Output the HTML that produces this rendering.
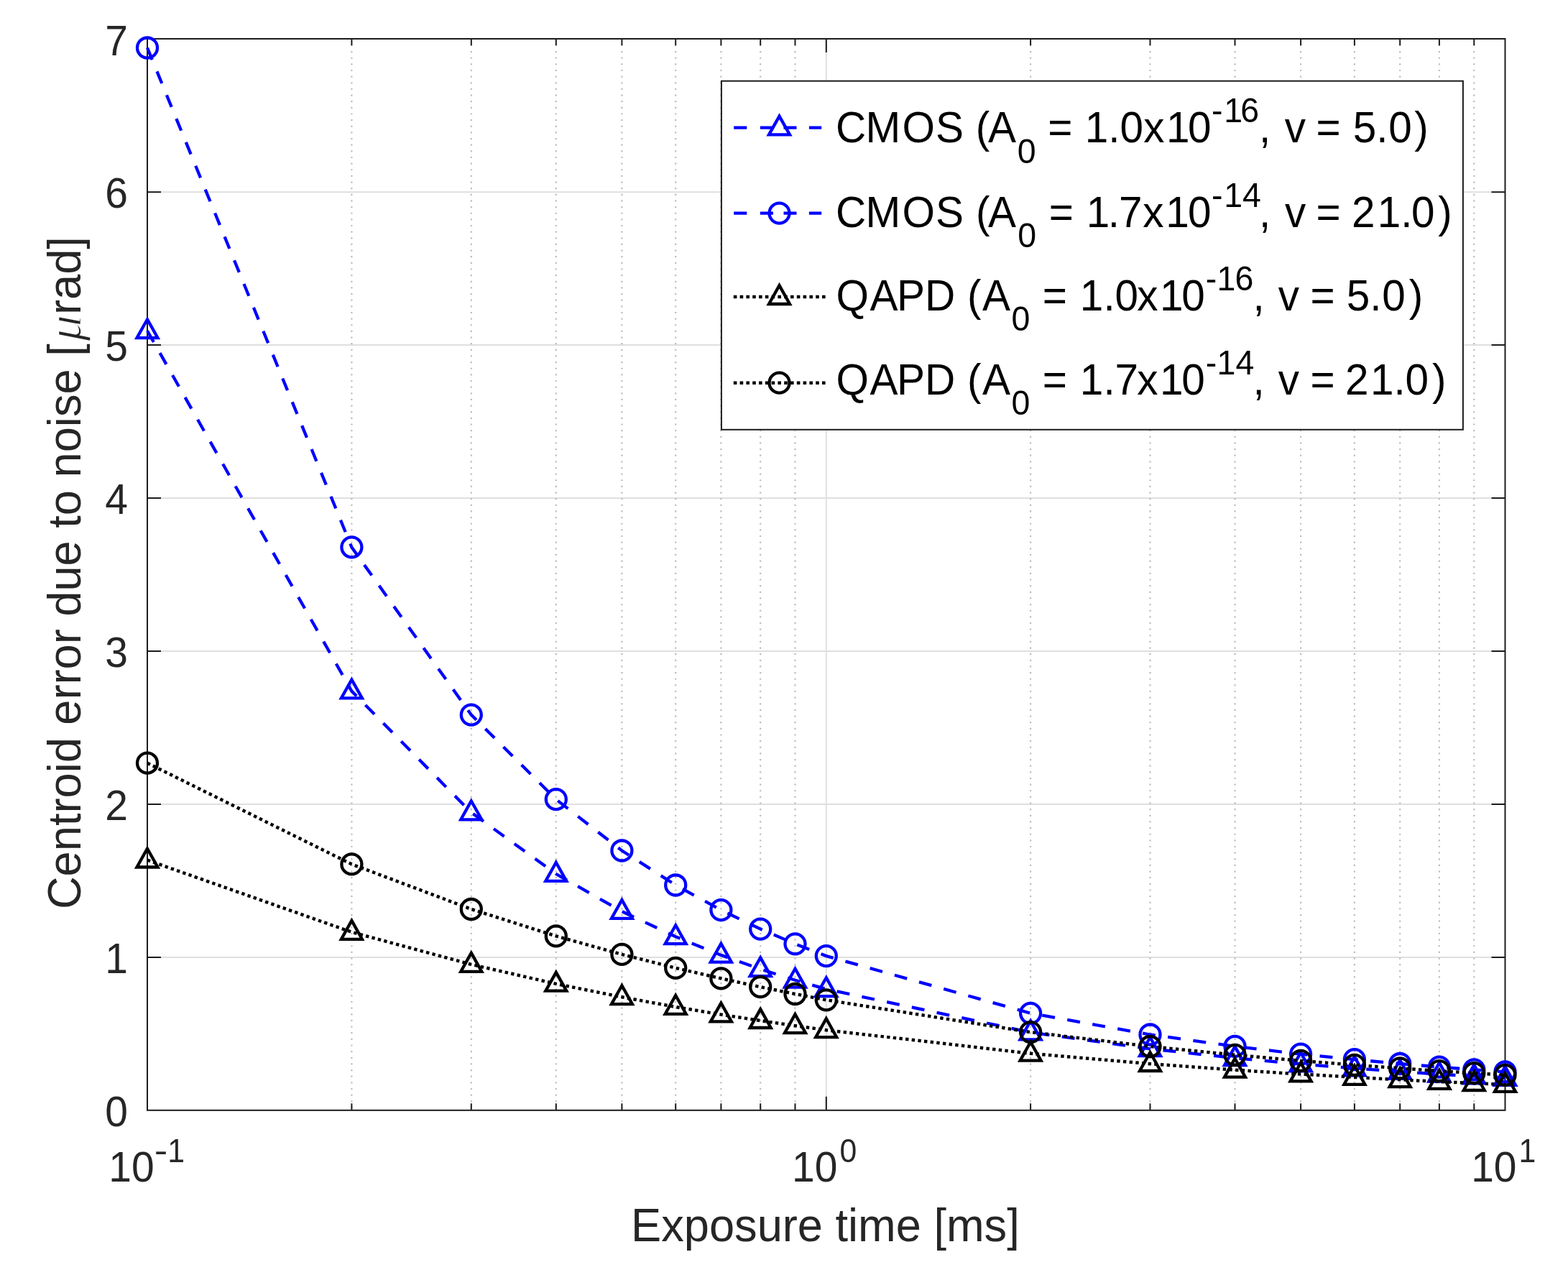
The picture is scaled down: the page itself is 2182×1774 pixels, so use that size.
<!DOCTYPE html>
<html><head><meta charset="utf-8"><title>Centroid error vs exposure time</title><style>html,body{margin:0;padding:0;background:#fff;}svg{display:block;}</style></head>
<body>
<svg width="2182" height="1774" viewBox="0 0 2182 1774">
<rect width="2182" height="1774" fill="#fff"/>
<path d="M205.0 1331.9H2094.5 M205.0 1118.9H2094.5 M205.0 906.0H2094.5 M205.0 693.0H2094.5 M205.0 480.1H2094.5 M205.0 267.2H2094.5 M1149.8 54.0V1544.8" stroke="#dfdfdf" stroke-width="2" fill="none"/>
<path d="M489.4 71.0V1544.8 M655.8 71.0V1544.8 M773.8 71.0V1544.8 M865.4 71.0V1544.8 M940.2 71.0V1544.8 M1003.4 71.0V1544.8 M1058.2 71.0V1544.8 M1106.5 71.0V1544.8 M1434.1 71.0V1544.8 M1600.5 71.0V1544.8 M1718.5 71.0V1544.8 M1810.1 71.0V1544.8 M1884.9 71.0V1544.8 M1948.2 71.0V1544.8 M2002.9 71.0V1544.8 M2051.3 71.0V1544.8" stroke="#bdbdbd" stroke-width="2.2" stroke-dasharray="2.2 6.44" fill="none"/>
<rect x="205.0" y="54.0" width="1889.5" height="1490.8" fill="none" stroke="#1c1c1c" stroke-width="2"/>
<path d="M205.0 1331.9h19 M2094.5 1331.9h-19 M205.0 1118.9h19 M2094.5 1118.9h-19 M205.0 906.0h19 M2094.5 906.0h-19 M205.0 693.0h19 M2094.5 693.0h-19 M205.0 480.1h19 M2094.5 480.1h-19 M205.0 267.2h19 M2094.5 267.2h-19 M1149.8 1544.8v-19 M1149.8 54.0v19 M489.4 1544.8v-9.5 M489.4 54.0v9.5 M655.8 1544.8v-9.5 M655.8 54.0v9.5 M773.8 1544.8v-9.5 M773.8 54.0v9.5 M865.4 1544.8v-9.5 M865.4 54.0v9.5 M940.2 1544.8v-9.5 M940.2 54.0v9.5 M1003.4 1544.8v-9.5 M1003.4 54.0v9.5 M1058.2 1544.8v-9.5 M1058.2 54.0v9.5 M1106.5 1544.8v-9.5 M1106.5 54.0v9.5 M1434.1 1544.8v-9.5 M1434.1 54.0v9.5 M1600.5 1544.8v-9.5 M1600.5 54.0v9.5 M1718.5 1544.8v-9.5 M1718.5 54.0v9.5 M1810.1 1544.8v-9.5 M1810.1 54.0v9.5 M1884.9 1544.8v-9.5 M1884.9 54.0v9.5 M1948.2 1544.8v-9.5 M1948.2 54.0v9.5 M2002.9 1544.8v-9.5 M2002.9 54.0v9.5 M2051.3 1544.8v-9.5 M2051.3 54.0v9.5" stroke="#1c1c1c" stroke-width="2" fill="none"/>
<text transform="translate(178.00,1567.10) scale(1,1.025)" font-family="Liberation Sans, Arial, Helvetica, sans-serif" font-size="57" fill="#262626" text-anchor="end">0</text>
<text transform="translate(178.00,1354.16) scale(1,1.025)" font-family="Liberation Sans, Arial, Helvetica, sans-serif" font-size="57" fill="#262626" text-anchor="end">1</text>
<text transform="translate(178.00,1141.22) scale(1,1.025)" font-family="Liberation Sans, Arial, Helvetica, sans-serif" font-size="57" fill="#262626" text-anchor="end">2</text>
<text transform="translate(178.00,928.28) scale(1,1.025)" font-family="Liberation Sans, Arial, Helvetica, sans-serif" font-size="57" fill="#262626" text-anchor="end">3</text>
<text transform="translate(178.00,715.34) scale(1,1.025)" font-family="Liberation Sans, Arial, Helvetica, sans-serif" font-size="57" fill="#262626" text-anchor="end">4</text>
<text transform="translate(178.00,502.40) scale(1,1.025)" font-family="Liberation Sans, Arial, Helvetica, sans-serif" font-size="57" fill="#262626" text-anchor="end">5</text>
<text transform="translate(178.00,289.46) scale(1,1.025)" font-family="Liberation Sans, Arial, Helvetica, sans-serif" font-size="57" fill="#262626" text-anchor="end">6</text>
<text transform="translate(178.00,76.52) scale(1,1.025)" font-family="Liberation Sans, Arial, Helvetica, sans-serif" font-size="57" fill="#262626" text-anchor="end">7</text>
<text transform="translate(151.34,1643.80) scale(1,1.025)" font-family="Liberation Sans, Arial, Helvetica, sans-serif" font-size="57" fill="#262626">10</text>
<text transform="translate(214.83,1616.50) scale(1.209,1.025)" font-family="Liberation Sans, Arial, Helvetica, sans-serif" font-size="46" fill="#262626">-</text>
<text transform="translate(233.30,1616.50) scale(0.930,1.025)" font-family="Liberation Sans, Arial, Helvetica, sans-serif" font-size="46" fill="#262626">1</text>
<text transform="translate(1102.04,1643.80) scale(1,1.025)" font-family="Liberation Sans, Arial, Helvetica, sans-serif" font-size="57" fill="#262626">10</text>
<text transform="translate(1168.50,1616.50) scale(0.930,1.025)" font-family="Liberation Sans, Arial, Helvetica, sans-serif" font-size="46" fill="#262626">0</text>
<text transform="translate(2047.14,1643.80) scale(1,1.025)" font-family="Liberation Sans, Arial, Helvetica, sans-serif" font-size="57" fill="#262626">10</text>
<text transform="translate(2113.50,1616.50) scale(0.930,1.025)" font-family="Liberation Sans, Arial, Helvetica, sans-serif" font-size="46" fill="#262626">1</text>
<text transform="translate(878.02,1726.90) scale(1,1.03)" font-family="Liberation Sans, Arial, Helvetica, sans-serif" font-size="63.2" fill="#262626">Exposure time [ms]</text>
<text transform="translate(111.8,1265.01) rotate(-90) scale(1,1.03)" font-family="Liberation Sans, Arial, Helvetica, sans-serif" font-size="63.2" fill="#262626">Centroid error due to noise [</text>
<text transform="translate(111.8,474.70) rotate(-90) scale(1.16,1.03)" font-family="Liberation Serif, serif" font-style="italic" font-size="63.2" fill="#262626" stroke="#fff" stroke-width="1.4">μ</text>
<text transform="translate(111.8,438.00) rotate(-90) scale(1,1.03)" font-family="Liberation Sans, Arial, Helvetica, sans-serif" font-size="63.2" fill="#262626">rad]</text>
<g fill="none" stroke-width="4.3" stroke-miterlimit="10">
<path d="M205.0 460.3 L489.4 961.6 L655.8 1130.5 L773.8 1216.0 L865.4 1268.1 L940.2 1303.3 L1003.4 1328.9 L1058.2 1348.4 L1106.5 1363.8 L1149.8 1376.3 L1434.1 1436.4 L1600.5 1459.3 L1718.5 1472.1 L1810.1 1480.5 L1884.9 1486.4 L1948.2 1491.0 L2002.9 1494.6 L2051.3 1497.6 L2094.5 1500.1" stroke="#0000ff" stroke-dasharray="18 17.5" stroke-width="4.3"/>
<path d="M205.0 444.3L219.5 470.1L190.5 470.1Z M489.4 945.6L503.9 971.4L474.9 971.4Z M655.8 1114.5L670.3 1140.3L641.3 1140.3Z M773.8 1200.0L788.3 1225.9L759.3 1225.9Z M865.4 1252.1L879.9 1277.9L850.9 1277.9Z M940.2 1287.3L954.7 1313.2L925.7 1313.2Z M1003.4 1312.9L1017.9 1338.7L988.9 1338.7Z M1058.2 1332.4L1072.7 1358.2L1043.7 1358.2Z M1106.5 1347.8L1121.0 1373.6L1092.0 1373.6Z M1149.8 1360.3L1164.2 1386.1L1135.2 1386.1Z M1434.1 1420.4L1448.6 1446.3L1419.6 1446.3Z M1600.5 1443.3L1615.0 1469.2L1586.0 1469.2Z M1718.5 1456.1L1733.0 1482.0L1704.0 1482.0Z M1810.1 1464.5L1824.6 1490.3L1795.6 1490.3Z M1884.9 1470.4L1899.4 1496.3L1870.4 1496.3Z M1948.2 1475.0L1962.7 1500.9L1933.7 1500.9Z M2002.9 1478.6L2017.4 1504.5L1988.4 1504.5Z M2051.3 1481.6L2065.8 1507.4L2036.8 1507.4Z M2094.5 1484.1L2109.0 1509.9L2080.0 1509.9Z" stroke="#0000ff"/>
<path d="M205.0 66.5 L489.4 761.4 L655.8 994.6 L773.8 1112.2 L865.4 1183.5 L940.2 1231.5 L1003.4 1266.2 L1058.2 1292.6 L1106.5 1313.3 L1149.8 1330.1 L1434.1 1409.8 L1600.5 1439.5 L1718.5 1455.9 L1810.1 1466.6 L1884.9 1474.2 L1948.2 1480.0 L2002.9 1484.6 L2051.3 1488.3 L2094.5 1491.4" stroke="#0000ff" stroke-dasharray="18 17.5" stroke-width="4.3"/>
<path d="M191.0 66.5a14 14 0 1 0 28 0a14 14 0 1 0 -28 0Z M475.4 761.4a14 14 0 1 0 28 0a14 14 0 1 0 -28 0Z M641.8 994.6a14 14 0 1 0 28 0a14 14 0 1 0 -28 0Z M759.8 1112.2a14 14 0 1 0 28 0a14 14 0 1 0 -28 0Z M851.4 1183.5a14 14 0 1 0 28 0a14 14 0 1 0 -28 0Z M926.2 1231.5a14 14 0 1 0 28 0a14 14 0 1 0 -28 0Z M989.4 1266.2a14 14 0 1 0 28 0a14 14 0 1 0 -28 0Z M1044.2 1292.6a14 14 0 1 0 28 0a14 14 0 1 0 -28 0Z M1092.5 1313.3a14 14 0 1 0 28 0a14 14 0 1 0 -28 0Z M1135.8 1330.1a14 14 0 1 0 28 0a14 14 0 1 0 -28 0Z M1420.1 1409.8a14 14 0 1 0 28 0a14 14 0 1 0 -28 0Z M1586.5 1439.5a14 14 0 1 0 28 0a14 14 0 1 0 -28 0Z M1704.5 1455.9a14 14 0 1 0 28 0a14 14 0 1 0 -28 0Z M1796.1 1466.6a14 14 0 1 0 28 0a14 14 0 1 0 -28 0Z M1870.9 1474.2a14 14 0 1 0 28 0a14 14 0 1 0 -28 0Z M1934.2 1480.0a14 14 0 1 0 28 0a14 14 0 1 0 -28 0Z M1988.9 1484.6a14 14 0 1 0 28 0a14 14 0 1 0 -28 0Z M2037.3 1488.3a14 14 0 1 0 28 0a14 14 0 1 0 -28 0Z M2080.5 1491.4a14 14 0 1 0 28 0a14 14 0 1 0 -28 0Z" stroke="#0000ff"/>
<path d="M205.0 1196.7 L489.4 1296.9 L655.8 1341.9 L773.8 1368.9 L865.4 1387.3 L940.2 1401.0 L1003.4 1411.6 L1058.2 1420.1 L1106.5 1427.2 L1149.8 1433.2 L1434.1 1465.8 L1600.5 1480.2 L1718.5 1488.7 L1810.1 1494.6 L1884.9 1498.9 L1948.2 1502.3 L2002.9 1505.0 L2051.3 1507.2 L2094.5 1509.1" stroke="#000000" stroke-dasharray="4.4 4.3" stroke-width="4.5"/>
<path d="M205.0 1180.7L219.5 1206.5L190.5 1206.5Z M489.4 1280.9L503.9 1306.8L474.9 1306.8Z M655.8 1325.9L670.3 1351.8L641.3 1351.8Z M773.8 1352.9L788.3 1378.7L759.3 1378.7Z M865.4 1371.3L879.9 1397.2L850.9 1397.2Z M940.2 1385.0L954.7 1410.8L925.7 1410.8Z M1003.4 1395.6L1017.9 1421.4L988.9 1421.4Z M1058.2 1404.1L1072.7 1430.0L1043.7 1430.0Z M1106.5 1411.2L1121.0 1437.1L1092.0 1437.1Z M1149.8 1417.2L1164.2 1443.1L1135.2 1443.1Z M1434.1 1449.8L1448.6 1475.6L1419.6 1475.6Z M1600.5 1464.2L1615.0 1490.0L1586.0 1490.0Z M1718.5 1472.7L1733.0 1498.6L1704.0 1498.6Z M1810.1 1478.6L1824.6 1504.4L1795.6 1504.4Z M1884.9 1482.9L1899.4 1508.8L1870.4 1508.8Z M1948.2 1486.3L1962.7 1512.1L1933.7 1512.1Z M2002.9 1489.0L2017.4 1514.8L1988.4 1514.8Z M2051.3 1491.2L2065.8 1517.0L2036.8 1517.0Z M2094.5 1493.1L2109.0 1518.9L2080.0 1518.9Z" stroke="#000000"/>
<path d="M205.0 1061.7 L489.4 1202.4 L655.8 1265.0 L773.8 1302.4 L865.4 1327.9 L940.2 1346.8 L1003.4 1361.4 L1058.2 1373.2 L1106.5 1383.0 L1149.8 1391.3 L1434.1 1436.1 L1600.5 1456.0 L1718.5 1467.8 L1810.1 1475.9 L1884.9 1481.8 L1948.2 1486.4 L2002.9 1490.1 L2051.3 1493.2 L2094.5 1495.8" stroke="#000000" stroke-dasharray="4.4 4.3" stroke-width="4.5"/>
<path d="M191.0 1061.7a14 14 0 1 0 28 0a14 14 0 1 0 -28 0Z M475.4 1202.4a14 14 0 1 0 28 0a14 14 0 1 0 -28 0Z M641.8 1265.0a14 14 0 1 0 28 0a14 14 0 1 0 -28 0Z M759.8 1302.4a14 14 0 1 0 28 0a14 14 0 1 0 -28 0Z M851.4 1327.9a14 14 0 1 0 28 0a14 14 0 1 0 -28 0Z M926.2 1346.8a14 14 0 1 0 28 0a14 14 0 1 0 -28 0Z M989.4 1361.4a14 14 0 1 0 28 0a14 14 0 1 0 -28 0Z M1044.2 1373.2a14 14 0 1 0 28 0a14 14 0 1 0 -28 0Z M1092.5 1383.0a14 14 0 1 0 28 0a14 14 0 1 0 -28 0Z M1135.8 1391.3a14 14 0 1 0 28 0a14 14 0 1 0 -28 0Z M1420.1 1436.1a14 14 0 1 0 28 0a14 14 0 1 0 -28 0Z M1586.5 1456.0a14 14 0 1 0 28 0a14 14 0 1 0 -28 0Z M1704.5 1467.8a14 14 0 1 0 28 0a14 14 0 1 0 -28 0Z M1796.1 1475.9a14 14 0 1 0 28 0a14 14 0 1 0 -28 0Z M1870.9 1481.8a14 14 0 1 0 28 0a14 14 0 1 0 -28 0Z M1934.2 1486.4a14 14 0 1 0 28 0a14 14 0 1 0 -28 0Z M1988.9 1490.1a14 14 0 1 0 28 0a14 14 0 1 0 -28 0Z M2037.3 1493.2a14 14 0 1 0 28 0a14 14 0 1 0 -28 0Z M2080.5 1495.8a14 14 0 1 0 28 0a14 14 0 1 0 -28 0Z" stroke="#000000"/>
</g>
<rect x="1003.9" y="112.7" width="1032.0" height="485.1" fill="#fff" stroke="#1c1c1c" stroke-width="2"/>
<path d="M1021.2 177.6H1039.3 M1057.8 177.6H1075.9 M1090.5 177.6H1108.5 M1125.9 177.6H1143.2" stroke="#0000ff" stroke-width="4.3"/>
<path d="M1084.5 161.6L1099.0 187.4L1070.0 187.4Z" stroke="#0000ff" stroke-width="4.3" fill="none" stroke-miterlimit="10"/>
<text xml:space="preserve" style="white-space:pre" x="1163.03 1204.40 1255.53 1302.04 1341.06 1357.67 1374.89" y="0" transform="translate(0,198.30) scale(1,1.03)" font-family="Liberation Sans, Arial, Helvetica, sans-serif" font-size="58.5" fill="#000">CMOS (A</text>
<text xml:space="preserve" style="white-space:pre" x="1415.88" y="0" transform="translate(0,226.50) scale(1,1.03)" font-family="Liberation Sans, Arial, Helvetica, sans-serif" font-size="46.5" fill="#000">0</text>
<text xml:space="preserve" style="white-space:pre" x="1441.89 1458.14 1492.31 1509.84 1542.38 1558.63 1591.14 1622.94 1653.11" y="0" transform="translate(0,198.30) scale(1,1.03)" font-family="Liberation Sans, Arial, Helvetica, sans-serif" font-size="58.5" fill="#000"> = 1.0x10</text>
<text xml:space="preserve" style="white-space:pre" x="1685.93 1703.16 1726.34" y="0" transform="translate(0,170.20) scale(1,1.03)" font-family="Liberation Sans, Arial, Helvetica, sans-serif" font-size="46.5" fill="#000">-16</text>
<text xml:space="preserve" style="white-space:pre" x="1752.04 1768.30 1787.80 1817.05 1831.44 1865.61 1882.66 1915.19 1932.21 1968.26" y="0" transform="translate(0,198.30) scale(1,1.03)" font-family="Liberation Sans, Arial, Helvetica, sans-serif" font-size="58.5" fill="#000">, v = 5.0)</text>
<path d="M1021.2 296.6H1039.3 M1057.8 296.6H1075.9 M1090.5 296.6H1108.5 M1125.9 296.6H1143.2" stroke="#0000ff" stroke-width="4.3"/>
<path d="M1070.5 296.6a14 14 0 1 0 28 0a14 14 0 1 0 -28 0Z" stroke="#0000ff" stroke-width="4.3" fill="none" stroke-miterlimit="10"/>
<text xml:space="preserve" style="white-space:pre" x="1163.03 1204.40 1255.53 1302.04 1341.06 1357.97 1374.99" y="0" transform="translate(0,316.10) scale(1,1.03)" font-family="Liberation Sans, Arial, Helvetica, sans-serif" font-size="58.5" fill="#000">CMOS (A</text>
<text xml:space="preserve" style="white-space:pre" x="1416.28" y="0" transform="translate(0,344.30) scale(1,1.03)" font-family="Liberation Sans, Arial, Helvetica, sans-serif" font-size="46.5" fill="#000">0</text>
<text xml:space="preserve" style="white-space:pre" x="1443.59 1459.84 1494.01 1511.64 1541.76 1556.90 1590.24 1622.34 1653.11" y="0" transform="translate(0,316.10) scale(1,1.03)" font-family="Liberation Sans, Arial, Helvetica, sans-serif" font-size="58.5" fill="#000"> = 1.7x10</text>
<text xml:space="preserve" style="white-space:pre" x="1685.93 1703.16 1729.02" y="0" transform="translate(0,288.00) scale(1,1.03)" font-family="Liberation Sans, Arial, Helvetica, sans-serif" font-size="46.5" fill="#000">-14</text>
<text xml:space="preserve" style="white-space:pre" x="1752.04 1768.30 1787.90 1817.15 1831.44 1865.61 1880.96 1916.84 1949.38 1964.11 2001.26" y="0" transform="translate(0,316.10) scale(1,1.03)" font-family="Liberation Sans, Arial, Helvetica, sans-serif" font-size="58.5" fill="#000">, v = 21.0)</text>
<path d="M1020.8 413.1H1149" stroke="#000000" stroke-width="4.5" stroke-dasharray="4.6 4.2"/>
<path d="M1084.5 397.1L1099.0 423.0L1070.0 423.0Z" stroke="#000000" stroke-width="4.3" fill="none" stroke-miterlimit="10"/>
<text xml:space="preserve" style="white-space:pre" x="1163.43 1210.39 1247.90 1287.10 1329.35 1345.97 1366.99" y="0" transform="translate(0,431.80) scale(1,1.03)" font-family="Liberation Sans, Arial, Helvetica, sans-serif" font-size="58.5" fill="#000">QAPD (A</text>
<text xml:space="preserve" style="white-space:pre" x="1407.58" y="0" transform="translate(0,460.00) scale(1,1.03)" font-family="Liberation Sans, Arial, Helvetica, sans-serif" font-size="46.5" fill="#000">0</text>
<text xml:space="preserve" style="white-space:pre" x="1434.59 1450.84 1485.01 1502.84 1535.38 1551.63 1582.24 1614.04 1644.21" y="0" transform="translate(0,431.80) scale(1,1.03)" font-family="Liberation Sans, Arial, Helvetica, sans-serif" font-size="58.5" fill="#000"> = 1.0x10</text>
<text xml:space="preserve" style="white-space:pre" x="1677.83 1693.56 1718.44" y="0" transform="translate(0,403.70) scale(1,1.03)" font-family="Liberation Sans, Arial, Helvetica, sans-serif" font-size="46.5" fill="#000">-16</text>
<text xml:space="preserve" style="white-space:pre" x="1743.54 1759.80 1778.80 1808.05 1823.54 1857.71 1873.66 1906.19 1923.21 1960.76" y="0" transform="translate(0,431.80) scale(1,1.03)" font-family="Liberation Sans, Arial, Helvetica, sans-serif" font-size="58.5" fill="#000">, v = 5.0)</text>
<path d="M1020.8 532.7H1149" stroke="#000000" stroke-width="4.5" stroke-dasharray="4.6 4.2"/>
<path d="M1070.5 532.7a14 14 0 1 0 28 0a14 14 0 1 0 -28 0Z" stroke="#000000" stroke-width="4.3" fill="none" stroke-miterlimit="10"/>
<text xml:space="preserve" style="white-space:pre" x="1163.43 1210.39 1247.90 1287.10 1329.35 1345.97 1366.99" y="0" transform="translate(0,548.90) scale(1,1.03)" font-family="Liberation Sans, Arial, Helvetica, sans-serif" font-size="58.5" fill="#000">QAPD (A</text>
<text xml:space="preserve" style="white-space:pre" x="1407.58" y="0" transform="translate(0,577.10) scale(1,1.03)" font-family="Liberation Sans, Arial, Helvetica, sans-serif" font-size="46.5" fill="#000">0</text>
<text xml:space="preserve" style="white-space:pre" x="1434.59 1450.84 1485.01 1502.84 1535.38 1551.63 1582.24 1614.04 1644.21" y="0" transform="translate(0,548.90) scale(1,1.03)" font-family="Liberation Sans, Arial, Helvetica, sans-serif" font-size="58.5" fill="#000"> = 1.7x10</text>
<text xml:space="preserve" style="white-space:pre" x="1677.83 1693.56 1719.42" y="0" transform="translate(0,520.80) scale(1,1.03)" font-family="Liberation Sans, Arial, Helvetica, sans-serif" font-size="46.5" fill="#000">-14</text>
<text xml:space="preserve" style="white-space:pre" x="1743.54 1759.80 1778.80 1808.05 1823.54 1857.71 1871.96 1907.04 1939.58 1955.51 1993.06" y="0" transform="translate(0,548.90) scale(1,1.03)" font-family="Liberation Sans, Arial, Helvetica, sans-serif" font-size="58.5" fill="#000">, v = 21.0)</text>
</svg>
</body></html>
